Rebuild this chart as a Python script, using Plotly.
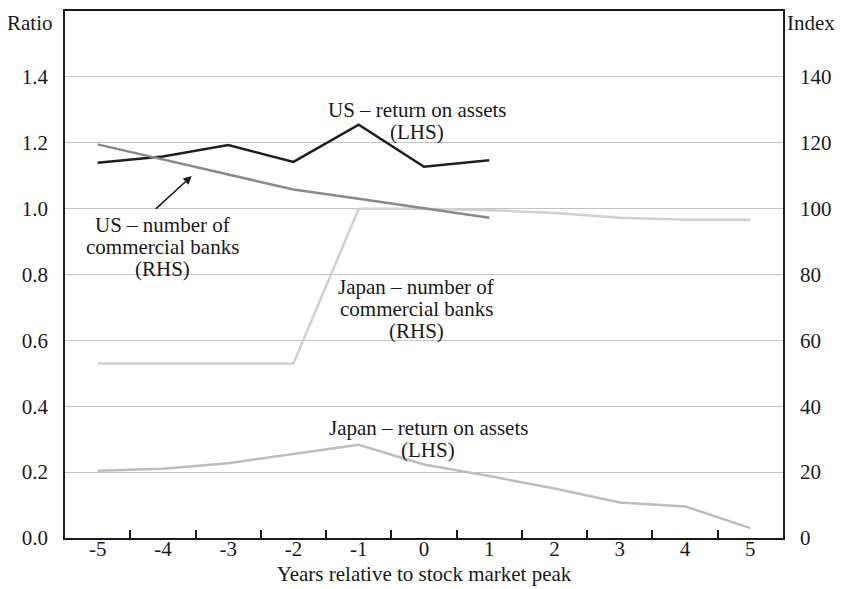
import plotly.graph_objects as go

years = [-5, -4, -3, -2, -1, 0, 1, 2, 3, 4, 5]
year_labels = ["-5", "-4", "-3", "-2", "-1", "0", "1", "2", "3", "4", "5"]
us_roa = [1.139, 1.158, 1.193, 1.142, 1.255, 1.127, 1.147]
us_banks = [119.5, 115.0, 110.5, 105.8, 103.0, 100.2, 97.2]
japan_banks = [53.0, 53.0, 53.0, 53.0, 100.0, 100.0, 99.5, 98.7, 97.2, 96.6, 96.6]
japan_roa = [0.204, 0.210, 0.227, 0.256, 0.283, 0.223, 0.188, 0.150, 0.108, 0.096, 0.030]
left_ticks = [0, 0.2, 0.4, 0.6, 0.8, 1.0, 1.2, 1.4]
left_labels = ["0.0", "0.2", "0.4", "0.6", "0.8", "1.0", "1.2", "1.4"]
right_ticks = [0, 20, 40, 60, 80, 100, 120, 140]

FONT = "Liberation Serif"
FS = 21
INK = "#1a1a1a"

fig = go.Figure()
fig.add_trace(go.Scatter(x=years, y=japan_roa, mode="lines",
                         line=dict(color="#bdbdbd", width=2.5), yaxis="y"))
fig.add_trace(go.Scatter(x=years, y=japan_banks, mode="lines",
                         line=dict(color="#d0d0d0", width=2.5), yaxis="y2"))
fig.add_trace(go.Scatter(x=years[:7], y=us_banks, mode="lines",
                         line=dict(color="#8a8a8a", width=2.5), yaxis="y2"))
fig.add_trace(go.Scatter(x=years[:7], y=us_roa, mode="lines",
                         line=dict(color="#1e1e1e", width=2.5), yaxis="y"))

ann_font = dict(family=FONT, size=FS, color=INK)


def label(x, y, text):
    return dict(x=x, y=y, xref="x", yref="y", text=text, showarrow=False,
                font=ann_font, xanchor="center", yanchor="middle")


annotations = [
    label(-0.107, 1.3006, "US – return on assets"),
    label(-0.107, 1.2339, "(LHS)"),
    label(-4.0, 0.951, "US – number of"),
    label(-4.0, 0.884, "commercial banks"),
    label(-4.0, 0.817, "(RHS)"),
    label(-0.122, 0.763, "Japan – number of"),
    label(-0.122, 0.696, "commercial banks"),
    label(-0.122, 0.629, "(RHS)"),
    label(0.062, 0.335, "Japan – return on assets"),
    label(0.062, 0.268, "(LHS)"),
    dict(x=-3.559, y=1.099, xref="x", yref="y", ax=-4.132, ay=0.995, axref="x", ayref="y",
         text="", showarrow=True, arrowhead=2, arrowsize=1.1, arrowwidth=1.5, arrowcolor=INK),
    dict(x=-0.0487, y=0.977, xref="paper", yref="paper", text="Ratio", showarrow=False,
         font=ann_font, yanchor="middle", xanchor="center"),
    dict(x=1.0396, y=0.977, xref="paper", yref="paper", text="Index", showarrow=False,
         font=ann_font, yanchor="middle", xanchor="center"),
]

fig.update_layout(
    width=840, height=581,
    margin=dict(l=57, r=65, t=1, b=51),
    paper_bgcolor="white", plot_bgcolor="white",
    showlegend=False,
    font=dict(family=FONT, size=FS, color=INK),
    xaxis=dict(range=[-5.5, 5.5], tickvals=years, ticktext=year_labels, ticks="",
               showgrid=False, zeroline=False,
               showline=True, linecolor=INK, linewidth=1.5, mirror=True,
               ticklabelstandoff=-9,
               minor=dict(tickvals=[-4.5, -3.5, -2.5, -1.5, -0.5, 0.5, 1.5, 2.5, 3.5, 4.5],
                          ticks="inside", ticklen=8, tickwidth=1.5, tickcolor=INK, showgrid=False),
               title=dict(text="Years relative to stock market peak", standoff=6,
                          font=dict(family=FONT, size=FS))),
    yaxis=dict(range=[0, 1.6], tickvals=left_ticks, ticktext=left_labels,
               ticks="", showgrid=True, gridcolor="#c4c4c4", gridwidth=1.2, zeroline=False,
               showline=True, linecolor=INK, linewidth=1.5, mirror=True,
               ticklabelstandoff=11),
    yaxis2=dict(range=[0, 160], tickvals=right_ticks,
                overlaying="y", side="right", ticks="", showgrid=False, zeroline=False,
                showline=True, linecolor=INK, linewidth=1.5, ticklabelstandoff=11),
    annotations=annotations,
)

fig.write_html("out.html")
